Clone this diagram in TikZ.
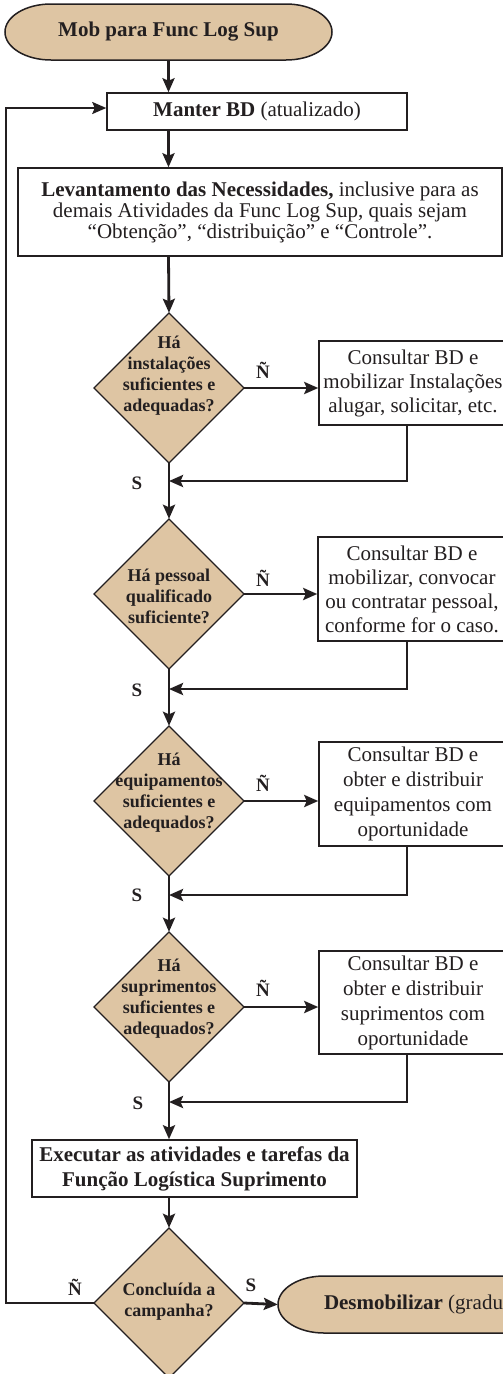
\documentclass[tikz,border=0pt]{standalone}
\usepackage{fontspec}
\setmainfont{Liberation Serif}
\usetikzlibrary{arrows.meta}
\definecolor{tan}{RGB}{222,197,163}
\definecolor{ink}{RGB}{35,31,32}
\tikzset{
  x=1pt, y=1pt,
  tip/.style={-{Stealth[length=14pt,width=12pt,inset=2.5pt]}},
  flow/.style={line width=2.8pt, draw=ink, tip},
  loopline/.style={line width=2pt, draw=ink, tip},
  box/.style={draw=ink, line width=1.5pt, fill=white, align=center, inner sep=0pt,
    font=\fontsize{21}{24}\selectfont, text=ink},
  decshape/.style={draw=ink, line width=1.2pt, fill=tan},
  dectext/.style={align=center, inner sep=0pt, text=ink,
    font=\fontsize{18}{21}\selectfont\bfseries},
  anchorbox/.style={minimum width=150pt, minimum height=150pt, inner sep=0pt},
  yn/.style={font=\fontsize{19}{21}\selectfont\bfseries, text=ink},
  termshape/.style={draw=ink, line width=1.5pt, fill=tan},
}
% decision diamond: name, x, y
\newcommand{\decision}[3]{%
  \filldraw[decshape] (#2,#3) +(0,75) -- +(75,0) -- +(0,-75) -- +(-75,0) -- cycle;
  \node[anchorbox] (#1) at (#2,#3) {};
}
\begin{document}
\begin{tikzpicture}
\useasboundingbox (0,0) rectangle (503,-1374);
\clip (0,0) rectangle (503,-1374);

% start terminator
\filldraw[termshape] (51,-4) -- (286,-4)
  arc[start angle=90, end angle=-90, x radius=46, y radius=28] -- (51,-60)
  arc[start angle=270, end angle=90, x radius=46, y radius=28] -- cycle;
\node[minimum width=327pt, minimum height=56pt, inner sep=0pt, text=ink,
  font=\fontsize{21}{24}\selectfont\bfseries] (start) at (168.5,-32) {Mob para Func Log Sup};

% process boxes
\node[box, minimum width=300pt, minimum height=37pt] (mbd) at (257,-111.5)
  {\textbf{Manter BD} (atualizado)};
\node[box, minimum width=484pt, minimum height=88pt, font=\fontsize{21}{21}\selectfont] (lev) at (260,-212)
  {\textbf{Levantamento das Necessidades,} inclusive para as\\
   demais Atividades da Func Log Sup, quais sejam\\
   “Obtenção”, “distribuição” e “Controle”.};

% decisions
\decision{d1}{169}{-388}
\decision{d2}{169}{-594}
\decision{d3}{169}{-801}
\decision{d4}{169}{-1007}
\decision{d5}{169}{-1303}

\node[dectext] (t1) at ([yshift=12pt]d1.center) {Há\\instalações\\suficientes e\\adequadas?};
\node[dectext] (t2) at ([yshift=-2pt]d2.center) {Há pessoal\\qualificado\\suficiente?};
\node[dectext] (t3) at ([yshift=8pt]d3.center) {Há\\equipamentos\\suficientes e\\adequados?};
\node[dectext] (t4) at ([yshift=8pt]d4.center) {Há\\suprimentos\\suficientes e\\adequados?};
\node[dectext] (t5) at ([yshift=1pt]d5.center) {Concluída a\\campanha?};

% side actions
\node[box, minimum width=188pt, minimum height=84pt] (b1) at (413,-383)
  {Consultar BD e\\mobilizar Instalações\\alugar, solicitar, etc.};
\node[box, minimum width=188pt, minimum height=104pt] (b2) at (412,-589)
  {Consultar BD e\\mobilizar, convocar\\ou contratar pessoal,\\conforme for o caso.};
\node[box, minimum width=188pt, minimum height=104pt, font=\fontsize{21}{25}\selectfont] (b3) at (413,-794)
  {Consultar BD e\\obter e distribuir\\equipamentos com\\oportunidade};
\node[box, minimum width=188pt, minimum height=103pt, font=\fontsize{21}{25}\selectfont] (b4) at (413,-1002.5)
  {Consultar BD e\\obter e distribuir\\suprimentos com\\oportunidade};

\node[box, minimum width=325pt, minimum height=57pt, font=\fontsize{21}{25}\selectfont\bfseries] (exec) at (194.5,-1168.5)
  {Executar as atividades e tarefas da\\Função Logística Suprimento};

% end terminator
\filldraw[termshape] (324,-1276) -- (576,-1276)
  arc[start angle=90, end angle=-90, x radius=46, y radius=28.5] -- (324,-1333)
  arc[start angle=270, end angle=90, x radius=46, y radius=28.5] -- cycle;
\node[minimum width=344pt, minimum height=57pt, inner sep=0pt] (endt) at (450,-1304.5) {};
\node[anchor=west, inner sep=0pt, text=ink, font=\fontsize{21}{24}\selectfont] (endlabel)
  at ([xshift=46pt]endt.west) {\textbf{Desmobilizar} (gradu};

% main flow
\draw[flow] (start.south) -- (start.south |- mbd.north);
\draw[flow] (start.south |- mbd.south) -- (start.south |- lev.north);
\draw[flow] (start.south |- lev.south) -- (d1.north);
\draw[flow] (d1.south) -- (d2.north);
\draw[flow] (d2.south) -- (d3.north);
\draw[flow] (d3.south) -- (d4.north);
\draw[flow] (d4.south) -- (d4.south |- exec.north);
\draw[flow] (d4.south |- exec.south) -- (d5.north);
\draw[flow] (d5.east) -- (endt.west);

% "no" branches
\draw[flow] (d1.east) -- (d1.east -| b1.west);
\draw[flow] (d2.east) -- (d2.east -| b2.west);
\draw[flow] (d3.east) -- (d3.east -| b3.west);
\draw[flow] (d4.east) -- (d4.east -| b4.west);

% returns into the main line
\coordinate (r1) at (407,-481);
\coordinate (r2) at (407,-689);
\coordinate (r3) at (407,-895);
\coordinate (r4) at (407,-1102);
\draw[flow] (r1 |- b1.south) -- (r1) -- (r1 -| d1.south);
\draw[flow] (r2 |- b2.south) -- (r2) -- (r2 -| d2.south);
\draw[flow] (r3 |- b3.south) -- (r3) -- (r3 -| d3.south);
\draw[flow] (r4 |- b4.south) -- (r4) -- (r4 -| d4.south);

% loop back to the database
\coordinate (lp) at (6,-108);
\draw[loopline] (d5.west) -| (lp) -- (lp -| mbd.west);

% branch labels
\node[yn] (n1) at (263,-370) {Ñ};
\node[yn] (n2) at (263,-578) {Ñ};
\node[yn] (n3) at (263,-783) {Ñ};
\node[yn] (n4) at (263,-988) {Ñ};
\node[yn] (s1) at (137,-483) {S};
\node[yn] (s2) at (137,-690) {S};
\node[yn] (s3) at (137,-895) {S};
\node[yn] (s4) at (138,-1103) {S};
\node[yn] (n5) at (75,-1287) {Ñ};
\node[yn] (s5) at (251,-1285) {S};
\end{tikzpicture}
\end{document}
